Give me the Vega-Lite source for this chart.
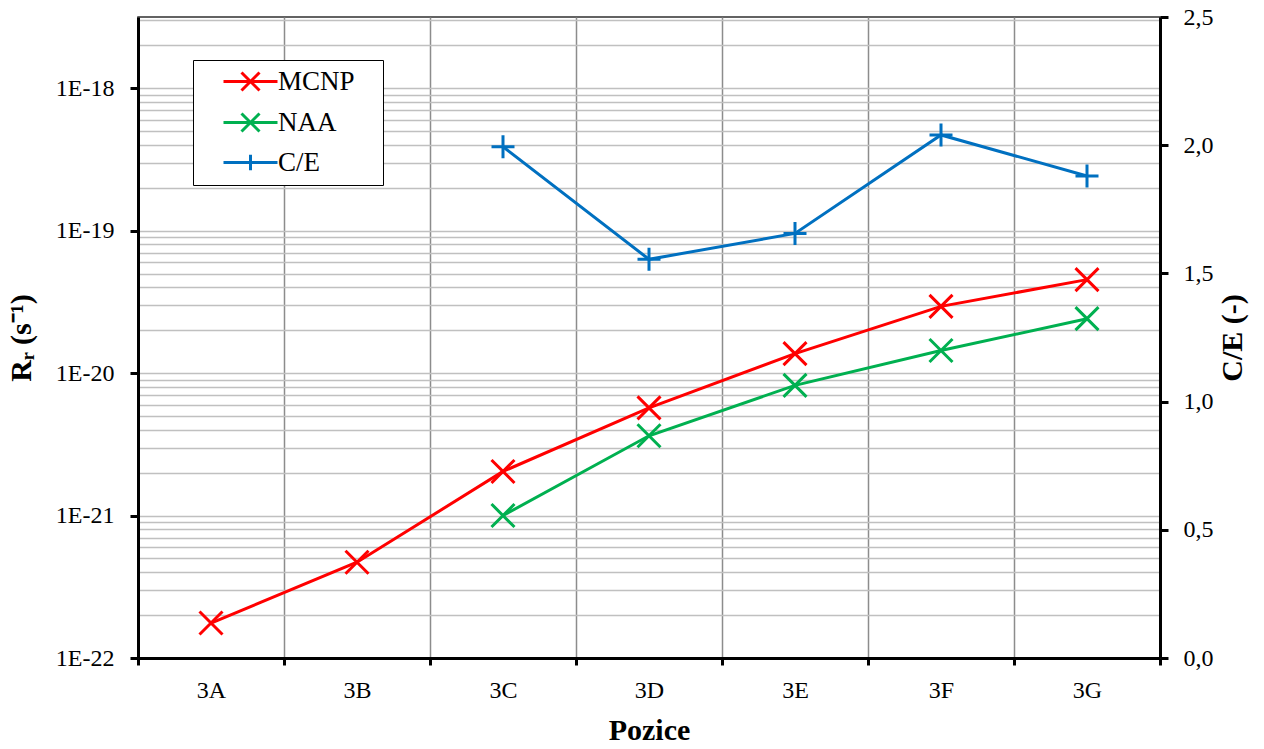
{
  "$schema": "https://vega.github.io/schema/vega-lite/v6.json",
  "width": 1022,
  "height": 641,
  "autosize": "none",
  "padding": {"left": 138, "top": 17, "right": 104, "bottom": 91},
  "background": "white",
  "config": {
    "font": "Liberation Serif",
    "view": {"stroke": "#303030", "strokeWidth": 1.5},
    "axis": {
      "labelFont": "Liberation Serif",
      "labelFontSize": 24,
      "labelColor": "black",
      "titleFont": "Liberation Serif",
      "titleFontSize": 30,
      "titleFontWeight": "bold",
      "titleColor": "black",
      "domainColor": "black",
      "domainWidth": 3,
      "tickColor": "black",
      "tickWidth": 3
    }
  },
  "data": {
    "values": [
      {"pos": "3A", "series": "MCNP", "value": 1.76e-22},
      {"pos": "3B", "series": "MCNP", "value": 4.7e-22},
      {"pos": "3C", "series": "MCNP", "value": 2.04e-21},
      {"pos": "3D", "series": "MCNP", "value": 5.7e-21},
      {"pos": "3E", "series": "MCNP", "value": 1.37e-20},
      {"pos": "3F", "series": "MCNP", "value": 2.94e-20},
      {"pos": "3G", "series": "MCNP", "value": 4.53e-20},
      {"pos": "3C", "series": "NAA", "value": 1.0e-21},
      {"pos": "3D", "series": "NAA", "value": 3.63e-21},
      {"pos": "3E", "series": "NAA", "value": 8.2e-21},
      {"pos": "3F", "series": "NAA", "value": 1.44e-20},
      {"pos": "3G", "series": "NAA", "value": 2.41e-20},
      {"pos": "3C", "series": "C/E", "value": 1.994},
      {"pos": "3D", "series": "C/E", "value": 1.555},
      {"pos": "3E", "series": "C/E", "value": 1.656},
      {"pos": "3F", "series": "C/E", "value": 2.04},
      {"pos": "3G", "series": "C/E", "value": 1.88}
    ]
  },
  "layer": [
    {
      "transform": [{"filter": "datum.series !== 'C/E'"}],
      "encoding": {
        "x": {
          "field": "pos", "type": "nominal",
          "scale": {"type": "band", "paddingInner": 0, "paddingOuter": 0, "domain": ["3A", "3B", "3C", "3D", "3E", "3F", "3G"]},
          "axis": {"title": "Pozice", "labelAngle": 0, "tickBand": "extent", "grid": true, "gridColor": "#8c8c8c", "gridWidth": 1.5, "tickSize": 7, "labelPadding": 13, "titlePadding": 13}
        },
        "y": {
          "field": "value", "type": "quantitative",
          "scale": {"type": "log", "domain": [1e-22, 3.16e-18], "nice": false},
          "axis": {
            "title": "Rᵣ (s⁻¹)",
            "values": [1e-22, 2e-22, 3e-22, 4e-22, 5e-22, 6e-22, 7e-22, 8e-22, 9e-22,
                       1e-21, 2e-21, 3e-21, 4e-21, 5e-21, 6e-21, 7e-21, 8e-21, 9e-21,
                       1e-20, 2e-20, 3e-20, 4e-20, 5e-20, 6e-20, 7e-20, 8e-20, 9e-20,
                       1e-19, 2e-19, 3e-19, 4e-19, 5e-19, 6e-19, 7e-19, 8e-19, 9e-19,
                       1e-18, 2e-18, 3e-18],
            "grid": true, "gridColor": "#c0c0c0", "gridWidth": 1.5,
            "labelExpr": "abs(log(datum.value)/LN10 - round(log(datum.value)/LN10)) < 0.01 ? '1E' + round(log(datum.value)/LN10) : ''",
            "labelOverlap": false,
            "tickSize": 8,
            "tickOpacity": {"condition": {"test": "abs(log(datum.value)/LN10 - round(log(datum.value)/LN10)) < 0.01", "value": 1}, "value": 0},
            "labelPadding": 16,
            "titlePadding": 19
          }
        },
        "color": {
          "field": "series", "type": "nominal",
          "scale": {"domain": ["MCNP", "NAA", "C/E"], "range": ["#ff0000", "#00b050", "#0070c0"]},
          "legend": {
            "title": null, "orient": "none", "legendX": 55, "legendY": 43,
            "labelFont": "Liberation Serif", "labelFontSize": 27, "labelColor": "black",
            "labelExpr": "datum.label + '\u2800'",
            "strokeColor": "black", "fillColor": "white", "padding": 8,
            "symbolOffset": 36, "labelOffset": 14, "rowPadding": 10,
            "symbolSize": 324, "symbolStrokeWidth": 3,
            "encode": {"symbols": {"update": {"shape": {"signal": "datum.value === 'C/E' ? 'M-3,0L3,0M0,-0.85L0,0.85' : 'M-3,0L3,0M-1,-1L1,1M-1,1L1,-1'"}}}}
          }
        }
      },
      "layer": [
        {"mark": {"type": "line", "strokeWidth": 3}},
        {"mark": {"type": "point", "filled": false, "strokeWidth": 3, "size": 529, "opacity": 1, "shape": "M-1,-1L1,1M-1,1L1,-1"}}
      ]
    },
    {
      "transform": [{"filter": "datum.series === 'C/E'"}],
      "encoding": {
        "x": {
          "field": "pos", "type": "nominal",
          "scale": {"type": "band", "paddingInner": 0, "paddingOuter": 0, "domain": ["3A", "3B", "3C", "3D", "3E", "3F", "3G"]},
          "axis": {"title": "Pozice", "labelAngle": 0, "tickBand": "extent", "grid": true, "gridColor": "#8c8c8c", "gridWidth": 1.5, "tickSize": 7, "labelPadding": 13, "titlePadding": 13}
        },
        "y": {
          "field": "value", "type": "quantitative",
          "scale": {"type": "linear", "domain": [0, 2.5], "nice": false, "zero": true},
          "axis": {
            "orient": "right", "title": "C/E (-)", "titleAngle": 270,
            "values": [0, 0.5, 1, 1.5, 2, 2.5], "grid": false,
            "labelExpr": "replace(format(datum.value, '.1f'), '.', ',')",
            "tickSize": 8, "labelPadding": 15, "titlePadding": 34
          }
        },
        "color": {
          "field": "series", "type": "nominal",
          "scale": {"domain": ["MCNP", "NAA", "C/E"], "range": ["#ff0000", "#00b050", "#0070c0"]}
        }
      },
      "layer": [
        {"mark": {"type": "line", "strokeWidth": 3}},
        {"mark": {"type": "point", "filled": false, "strokeWidth": 3, "size": 529, "opacity": 1, "shape": "M-1,0L1,0M0,-1L0,1"}}
      ]
    }
  ],
  "resolve": {"scale": {"y": "independent"}, "axis": {"y": "independent"}}
}
